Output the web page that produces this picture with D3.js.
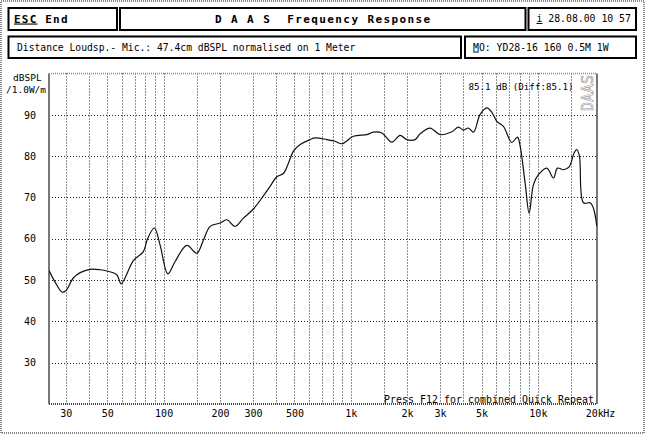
<!DOCTYPE html>
<html><head><meta charset="utf-8">
<script src="https://cdn.jsdelivr.net/npm/d3@7"></script>
<style>
html,body{margin:0;padding:0;background:#fff;}
svg{display:block;}
text{font-family:"DejaVu Sans Mono",monospace;fill:#000;}
</style></head>
<body>
<svg id="c" width="650" height="436"></svg>
<script>
// ---- data ----
const freqs = [24.4, 26.3, 28.6, 30, 32.9, 35.8, 40.5, 45.8, 49.7, 56.2, 59.3, 68.9, 77.9, 82, 89.2, 95.7, 105.3, 115.2, 133, 150.4, 162.6, 177.2, 200.3, 217.6, 241, 266.9, 301.9, 341.4, 370.8, 402.7, 436.5, 464.5, 493.9, 536.5, 606.7, 645, 745, 825, 895.8, 1033, 1219, 1322, 1466, 1658, 1835, 1993, 2208, 2348, 2655, 3004, 3469, 3762, 4001, 4255, 4525, 4914, 5338, 5676, 6036, 6546, 7258, 7779, 8040, 8548, 8982, 9471, 10068, 11166, 12114, 12726, 13698, 14694, 15628, 16155, 16677, 17521, 19027, 19812, 20661];
const spl = [52.3, 49.5, 47.1, 47.4, 50.5, 51.8, 52.6, 52.5, 52.2, 51.3, 49.1, 54.7, 56.9, 60.0, 62.6, 58.5, 51.5, 54.5, 58.4, 56.5, 59.5, 63.0, 63.8, 64.6, 63.0, 65.0, 67.2, 70.4, 72.7, 75.0, 75.8, 78.3, 81.2, 82.8, 84.0, 84.4, 84.0, 83.6, 83.0, 84.8, 85.2, 85.8, 85.6, 83.4, 85.0, 84.0, 84.0, 85.4, 86.8, 85.2, 85.9, 87.0, 86.3, 86.8, 85.8, 90.1, 91.7, 90.6, 88.4, 87.2, 83.3, 84.6, 82.4, 73.5, 66.2, 73.1, 75.5, 77.1, 74.7, 77.1, 76.7, 77.4, 80.8, 81.6, 80.0, 68.7, 68.7, 67.4, 63.0];
const freqGrid = [30, 40, 50, 60, 70, 80, 90, 100, 150, 200, 300, 400, 500, 600, 700, 800, 900, 1000, 1500, 2000, 3000, 4000, 5000, 6000, 7000, 8000, 9000, 10000, 15000];
const freqTicks = [30, 50, 100, 200, 300, 500, 1000, 2000, 3000, 5000, 10000, 20000];
const freqTickLabels = ["30", "50", "100", "200", "300", "500", "1k", "2k", "3k", "5k", "10k", "20k"];
const dbTicks = [30, 40, 50, 60, 70, 80, 90];
const freqDomain = [24.4, 20700];
const dbDomain = [20, 100];

const svg = d3.select("#c");
const L = 49, R = 597, T = 73.5, B = 404;
const x = d3.scaleLog().domain(freqDomain).range([L, R]);
const y = d3.scaleLinear().domain(dbDomain).range([B, T]);

// outer frame
svg.append("rect").attr("x", 1).attr("y", 1).attr("width", 643).attr("height", 432)
  .attr("fill", "#fff").attr("stroke", "#8a8a8a").attr("stroke-width", 2).attr("stroke-dasharray", "1,1");

// header boxes
function box(x0, y0, x1, y1) {
  svg.append("rect").attr("x", x0).attr("y", y0).attr("width", x1 - x0).attr("height", y1 - y0)
    .attr("fill", "#fff").attr("stroke", "#000").attr("stroke-width", 2);
}
box(8.5, 8, 117, 30);
box(120, 8, 525.5, 30);
box(528.5, 8, 636, 30);
box(8.5, 36.5, 461, 58);
box(465, 36.5, 636, 58);

const t1 = svg.append("text").attr("x", 14).attr("y", 22.5).attr("font-size", 11).attr("font-weight", "bold").attr("letter-spacing", 1.2);
t1.append("tspan").attr("text-decoration", "underline").text("ESC");
t1.append("tspan").text(" End");
svg.append("text").attr("x", 215).attr("y", 22.5).attr("font-size", 11).attr("font-weight", "bold")
  .attr("letter-spacing", 1.4).style("white-space", "pre").text("D A A S  Frequency Response");
const t3 = svg.append("text").attr("x", 536.5).attr("y", 22).attr("font-size", 9.8).style("white-space", "pre");
t3.append("tspan").attr("text-decoration", "underline").text("i");
t3.append("tspan").text(" 28.08.00 10 57");
svg.append("text").attr("x", 17).attr("y", 50.5).attr("font-size", 9.7).style("white-space", "pre")
  .text("Distance Loudsp.- Mic.: 47.4cm dBSPL normalised on 1 Meter");
const t5 = svg.append("text").attr("x", 473).attr("y", 50.5).attr("font-size", 9.8).style("white-space", "pre");
t5.append("tspan").attr("text-decoration", "underline").text("M");
t5.append("tspan").text("O: YD28-16 160 0.5M 1W");

// grid
const g = svg.append("g");
g.selectAll("line.v").data(freqGrid).join("line").attr("class", "v")
  .attr("x1", d => Math.round(x(d)) + 0.5).attr("x2", d => Math.round(x(d)) + 0.5)
  .attr("y1", T).attr("y2", B)
  .attr("stroke", "#222").attr("stroke-width", 1).attr("stroke-dasharray", "1,2");
g.selectAll("line.h").data(dbTicks).join("line").attr("class", "h")
  .attr("x1", L).attr("x2", R)
  .attr("y1", d => Math.round(y(d)) + 0.5).attr("y2", d => Math.round(y(d)) + 0.5)
  .attr("stroke", "#222").attr("stroke-width", 1).attr("stroke-dasharray", "1,2");

// plot frame
svg.append("line").attr("x1", L).attr("x2", L).attr("y1", T).attr("y2", B).attr("stroke", "#777").attr("stroke-width", 2);
svg.append("line").attr("x1", R).attr("x2", R).attr("y1", T).attr("y2", B).attr("stroke", "#777").attr("stroke-width", 2);
svg.append("line").attr("x1", L).attr("x2", R).attr("y1", T).attr("y2", T).attr("stroke", "#888").attr("stroke-width", 1.5).attr("stroke-dasharray", "1,1");
svg.append("line").attr("x1", L).attr("x2", R).attr("y1", B).attr("y2", B).attr("stroke", "#444").attr("stroke-width", 2).attr("stroke-dasharray", "1,1");

// axes labels
const xAxis = d3.axisBottom(x).tickValues(freqTicks).tickSize(0).tickPadding(0)
  .tickFormat((d, i) => freqTickLabels[i]);
const xa = svg.append("g").attr("transform", `translate(0,${B + 13})`).call(xAxis);
xa.select(".domain").remove();
xa.selectAll("text").attr("font-family", "DejaVu Sans Mono").attr("font-size", 10).attr("fill", "#000").attr("dy", 0);
svg.append("text").attr("x", x(20000) + 9).attr("y", B + 13).attr("font-size", 10).text("Hz");

const yAxis = d3.axisLeft(y).tickValues(dbTicks).tickSize(0).tickPadding(0).tickFormat(d3.format("d"));
const ya = svg.append("g").attr("transform", `translate(36,0)`).call(yAxis);
ya.select(".domain").remove();
ya.selectAll("text").attr("font-family", "DejaVu Sans Mono").attr("font-size", 10).attr("fill", "#000");

svg.append("text").attr("x", 13).attr("y", 81).attr("font-size", 9.5).text("dBSPL");
svg.append("text").attr("x", 6).attr("y", 93).attr("font-size", 9.5).text("/1.0W/m");

// annotation texts
svg.append("text").attr("x", 468.5).attr("y", 89.5).attr("font-size", 9.2).style("white-space", "pre").text("85.1 dB (Diff:85.1)");
svg.append("text").attr("transform", "translate(593,111) rotate(-90)")
  .attr("font-size", 16).attr("textLength", 36).attr("lengthAdjust", "spacingAndGlyphs")
  .style("fill", "#fff").attr("stroke", "#8c8c8c").attr("stroke-width", 0.6).text("DAAS");
svg.append("text").attr("x", 384).attr("y", 402.5).attr("font-size", 9.9).style("white-space", "pre")
  .attr("textLength", 210).text("Press F12 for combined Quick Repeat");

// curve
svg.append("clipPath").attr("id", "clip").append("rect").attr("x", L).attr("y", T).attr("width", R - L).attr("height", B - T);
const line = d3.line().x(d => x(d[0])).y(d => y(d[1])).curve(d3.curveCatmullRom.alpha(0.5));
svg.append("path").datum(freqs.map((f, i) => [f, spl[i]]))
  .attr("clip-path", "url(#clip)")
  .attr("d", line).attr("fill", "none").attr("stroke", "#111").attr("stroke-width", 1.2);
</script>
</body></html>
